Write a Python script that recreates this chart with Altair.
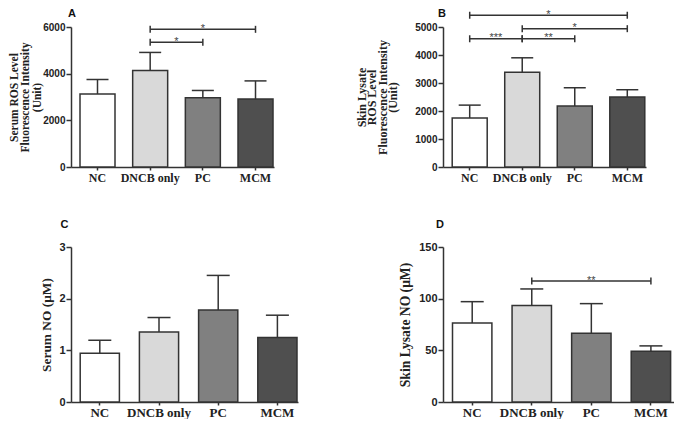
import altair as alt
import pandas as pd

groups = ["NC", "DNCB only", "PC", "MCM"]
bar_colors = ["#ffffff", "#d9d9d9", "#808080", "#4f4f4f"]

# Panel A: Serum ROS level (fluorescence intensity)
a_mean = [3130, 4140, 2970, 2910]
a_sd = [620, 770, 310, 780]
a_ticks = [0, 2000, 4000, 6000]
a_br_from = ["DNCB only", "DNCB only"]
a_br_to = ["MCM", "PC"]
a_br_y = [5900, 5350]
a_br_text = ["*", "*"]

# Panel B: Skin lysate ROS level
b_mean = [1750, 3380, 2180, 2500]
b_sd = [460, 520, 650, 260]
b_ticks = [0, 1000, 2000, 3000, 4000, 5000]
b_br_from = ["NC", "DNCB only", "NC", "DNCB only"]
b_br_to = ["MCM", "MCM", "DNCB only", "PC"]
b_br_y = [5420, 4940, 4580, 4580]
b_br_text = ["*", "*", "***", "**"]

# Panel C: Serum NO (uM)
c_mean = [0.945, 1.355, 1.78, 1.25]
c_sd = [0.25, 0.28, 0.67, 0.43]
c_ticks = [0, 1, 2, 3]

# Panel D: Skin lysate NO (uM)
d_mean = [76.5, 93.3, 66.5, 49.2]
d_sd = [20.6, 16.1, 28.7, 5.1]
d_ticks = [0, 50, 100, 150]
d_br_from = ["DNCB only"]
d_br_to = ["MCM"]
d_br_y = [117]
d_br_text = ["**"]

INK = "#333333"
SANS = "Liberation Sans"
SERIF = "Liberation Serif"


def panel(letter, means, sds, ticks, ytitle, br_from, br_to, br_y, br_text,
          W, H, step, bw, gap, fs_x, fs_y, fs_t, lh_t, pad_t, cap,
          letter_x, letter_y, x_pad):
    n = len(groups)
    p_in = 1 - bw / step
    leftover = W - (step * (n - 1) + bw)
    p_out = leftover / (2 * step)
    align = gap / leftover
    c0 = gap + bw / 2.0
    lin_dom = [-c0 / step, (W - c0) / step]

    df = pd.DataFrame({
        "group": groups,
        "mean": means,
        "top": [m + s for m, s in zip(means, sds)],
    })
    xs = alt.Scale(domain=groups, paddingInner=p_in, paddingOuter=p_out,
                   align=align, round=False)
    ys = alt.Scale(domain=[ticks[0], ticks[-1]], nice=False, zero=True)
    yaxis = alt.Axis(values=ticks, format="d", grid=False, tickSize=5,
                     tickWidth=1.5, tickColor=INK, domainColor=INK,
                     domainWidth=1.5, labelFont=SANS, labelFontWeight="bold",
                     labelFontSize=fs_y, labelColor="#222222", labelPadding=1,
                     labelOverlap=False, title=ytitle,
                     titleFont=SERIF, titleFontWeight="bold",
                     titleFontSize=fs_t, titleLineHeight=lh_t,
                     titlePadding=pad_t, titleColor="#222222")
    xaxis = alt.Axis(title=None, labelAngle=0, tickSize=3, tickWidth=1.5,
                     tickColor=INK, domainColor=INK, domainWidth=1.5,
                     labelFont=SERIF, labelFontWeight="bold",
                     labelFontSize=fs_x, labelColor="#222222",
                     labelPadding=x_pad, grid=False)

    def Y(field):
        return alt.Y(field, scale=ys, axis=yaxis)

    bars = alt.Chart(df).mark_bar(stroke=INK, strokeWidth=1.5).encode(
        x=alt.X("group:N", scale=xs, sort=groups, axis=xaxis),
        y=Y("mean:Q"),
        fill=alt.Fill("group:N", scale=alt.Scale(domain=groups, range=bar_colors),
                      legend=None),
    )
    err = alt.Chart(df).mark_rule(color=INK, strokeWidth=1.5).encode(
        x=alt.X("group:N", scale=xs, sort=groups, axis=xaxis),
        y=Y("mean:Q"),
        y2="top:Q",
    )
    caps = alt.Chart(df).mark_tick(orient="horizontal", size=cap, thickness=1.5,
                                   color=INK, opacity=1).encode(
        x=alt.X("group:N", scale=xs, sort=groups, axis=xaxis),
        y=Y("top:Q"),
    )
    base = alt.layer(bars, err, caps)

    layers = [base]
    if br_from:
        i1 = [groups.index(g) for g in br_from]
        i2 = [groups.index(g) for g in br_to]
        bdf = pd.DataFrame({"x1": i1, "x2": i2, "y": br_y, "label": br_text,
                            "xm": [(a + b) / 2 for a, b in zip(i1, i2)]})
        edf = pd.DataFrame({"x": i1 + i2, "y": br_y + br_y})
        ls = alt.Scale(domain=lin_dom, nice=False, zero=False)
        line = alt.Chart(bdf).mark_rule(color=INK, strokeWidth=1.5).encode(
            x=alt.X("x1:Q", scale=ls, axis=None), x2="x2:Q", y=Y("y:Q"))
        ends = alt.Chart(edf).mark_tick(orient="vertical", size=7, thickness=1.5,
                                        color=INK, opacity=1).encode(
            x=alt.X("x:Q", scale=ls, axis=None), y=Y("y:Q"))
        stars = alt.Chart(bdf).mark_text(font=SANS, fontSize=11, color="#444444",
                                         baseline="alphabetic", dy=2.5).encode(
            x=alt.X("xm:Q", scale=ls, axis=None), y=Y("y:Q"),
            text="label:N")
        layers.append(alt.layer(line, ends, stars))

    lab = alt.Chart(pd.DataFrame({"t": [letter]})).mark_text(
        font=SANS, fontWeight="bold", fontSize=11, color="#111111",
        align="center", baseline="alphabetic").encode(
        x=alt.value(letter_x), y=alt.value(letter_y), text="t:N")
    layers.append(lab)

    return alt.layer(*layers).resolve_scale(x="independent").properties(
        width=W, height=H)


A = panel("A", a_mean, a_sd, a_ticks,
          ["Serum ROS Level", "Fluorescence Intensity", "(Unit)"],
          a_br_from, a_br_to, a_br_y, a_br_text,
          W=203, H=140, step=52.67, bw=35, gap=9, fs_x=12, fs_y=10, fs_t=11.5,
          lh_t=11.5, pad_t=0.5, cap=22, letter_x=1, letter_y=-10, x_pad=2.5)
B = panel("B", b_mean, b_sd, b_ticks,
          ["Skin Lysate", "ROS Level", "Fluorescence Intensity", "(Unit)"],
          b_br_from, b_br_to, b_br_y, b_br_text,
          W=203, H=140, step=52.53, bw=35, gap=9.2, fs_x=12, fs_y=10, fs_t=12,
          lh_t=10.5, pad_t=15, cap=22, letter_x=-1, letter_y=-10, x_pad=2.5)
C = panel("C", c_mean, c_sd, c_ticks, "Serum NO (μM)",
          [], [], [], [],
          W=227, H=155, step=59.2, bw=39.2, gap=9.2, fs_x=13, fs_y=11, fs_t=13.4,
          lh_t=14, pad_t=5, cap=23, letter_x=-6.5, letter_y=-19, x_pad=1)
D = panel("D", d_mean, d_sd, d_ticks, "Skin Lysate NO (μM)",
          d_br_from, d_br_to, d_br_y, d_br_text,
          W=231, H=155, step=59.57, bw=39.4, gap=9.5, fs_x=13, fs_y=11, fs_t=13.6,
          lh_t=14, pad_t=6, cap=23, letter_x=-3, letter_y=-19, x_pad=1)

chart = alt.concat(A, B, C, D, columns=2, bounds="flush",
                   spacing={"row": 80, "column": 145}).properties(
    padding=0, background="white"
).configure_view(strokeWidth=0)

chart.save("out.html", embed_options={"renderer": "svg", "actions": False})
